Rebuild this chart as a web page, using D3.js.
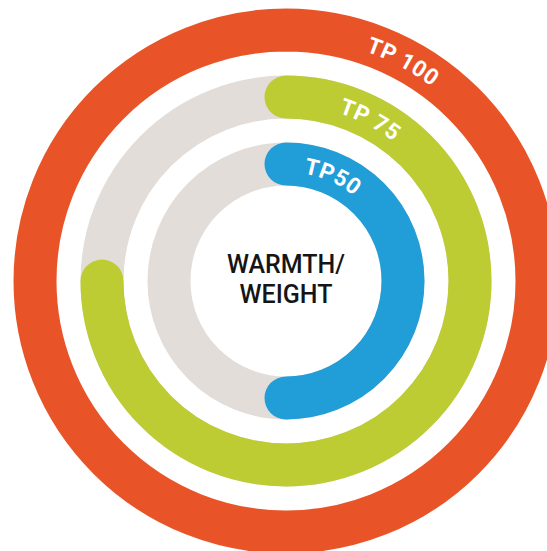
<!DOCTYPE html>
<html>
<head>
<meta charset="utf-8">
<script src="https://cdn.jsdelivr.net/npm/d3@7"></script>
<style>
  body { margin: 0; background: #fff; }
</style>
</head>
<body>
<div id="chart"></div>
<script>
// data
const labels = ["TP 100", "TP 75", "TP50"]
const values = [100, 75, 50]
const colors = ["#e85427", "#bdcc32", "#219dd8"]
const centerLines = ["WARMTH/", "WEIGHT"]

// chart dimensions
const width = 547
const height = 551
const cx = 286, cy = 281
const thickness = 43

const svg = d3.select("#chart").append("svg")
  .attr("width", width)
  .attr("height", height)
  .append("g")
  .attr("transform", "translate(" + cx + "," + cy + ")")

// scales
const angle = d3.scaleLinear().domain([0, 100]).range([0, 2 * Math.PI])
const radius = d3.scalePoint().domain(labels).range([251, 117])

function arcPath(r, a0, a1) {
  const p = d3.path()
  p.arc(0, 0, r, a0 - Math.PI / 2, a1 - Math.PI / 2)
  return p.toString()
}

const rings = labels.map((l, i) => ({ label: l, value: values[i], color: colors[i] }))

// grey tracks
svg.selectAll(".track")
  .data(rings.filter(d => d.value < 100))
  .enter().append("path")
  .attr("class", "track")
  .attr("d", d => arcPath(radius(d.label), 0, 2 * Math.PI))
  .style("fill", "none")
  .style("stroke", "#e2ddd9")
  .style("stroke-width", thickness)

// value arcs
svg.selectAll(".bar")
  .data(rings)
  .enter().append("path")
  .attr("class", "bar")
  .attr("d", d => arcPath(radius(d.label), 0, angle(d.value)))
  .style("fill", "none")
  .style("stroke", d => d.color)
  .style("stroke-width", thickness)
  .style("stroke-linecap", d => d.value < 100 ? "round" : "butt")

// label paths (baseline a bit inside the ring middle)
const defs = svg.append("defs")
defs.selectAll("path")
  .data(rings)
  .enter().append("path")
  .attr("id", (d, i) => "lp" + i)
  .attr("d", d => arcPath(radius(d.label) - 8, 0, 2 * Math.PI * 0.999))

const labelAngle = [28, 27.5, 24]
svg.selectAll(".label")
  .data(rings)
  .enter().append("text")
  .attr("class", "label")
  .style("font-family", "Roboto, sans-serif")
  .style("font-weight", "bold")
  .style("font-size", "22.5px")
  .style("letter-spacing", "0.5px")
  .style("fill", "#fff")
  .append("textPath")
  .attr("href", (d, i) => "#lp" + i)
  .attr("startOffset", (d, i) => (radius(d.label) - 8) * labelAngle[i] * Math.PI / 180)
  .attr("text-anchor", "middle")
  .text(d => d.label)

// center text
svg.selectAll(".center")
  .data(centerLines)
  .enter().append("text")
  .attr("class", "center")
  .attr("x", 0)
  .attr("y", (d, i) => -8 + i * 30)
  .style("text-anchor", "middle")
  .style("font-family", "Roboto, sans-serif")
  .style("font-weight", 500)
  .style("font-size", "25px")
  .style("fill", "#151515")
  .text(d => d)
</script>
</body>
</html>
